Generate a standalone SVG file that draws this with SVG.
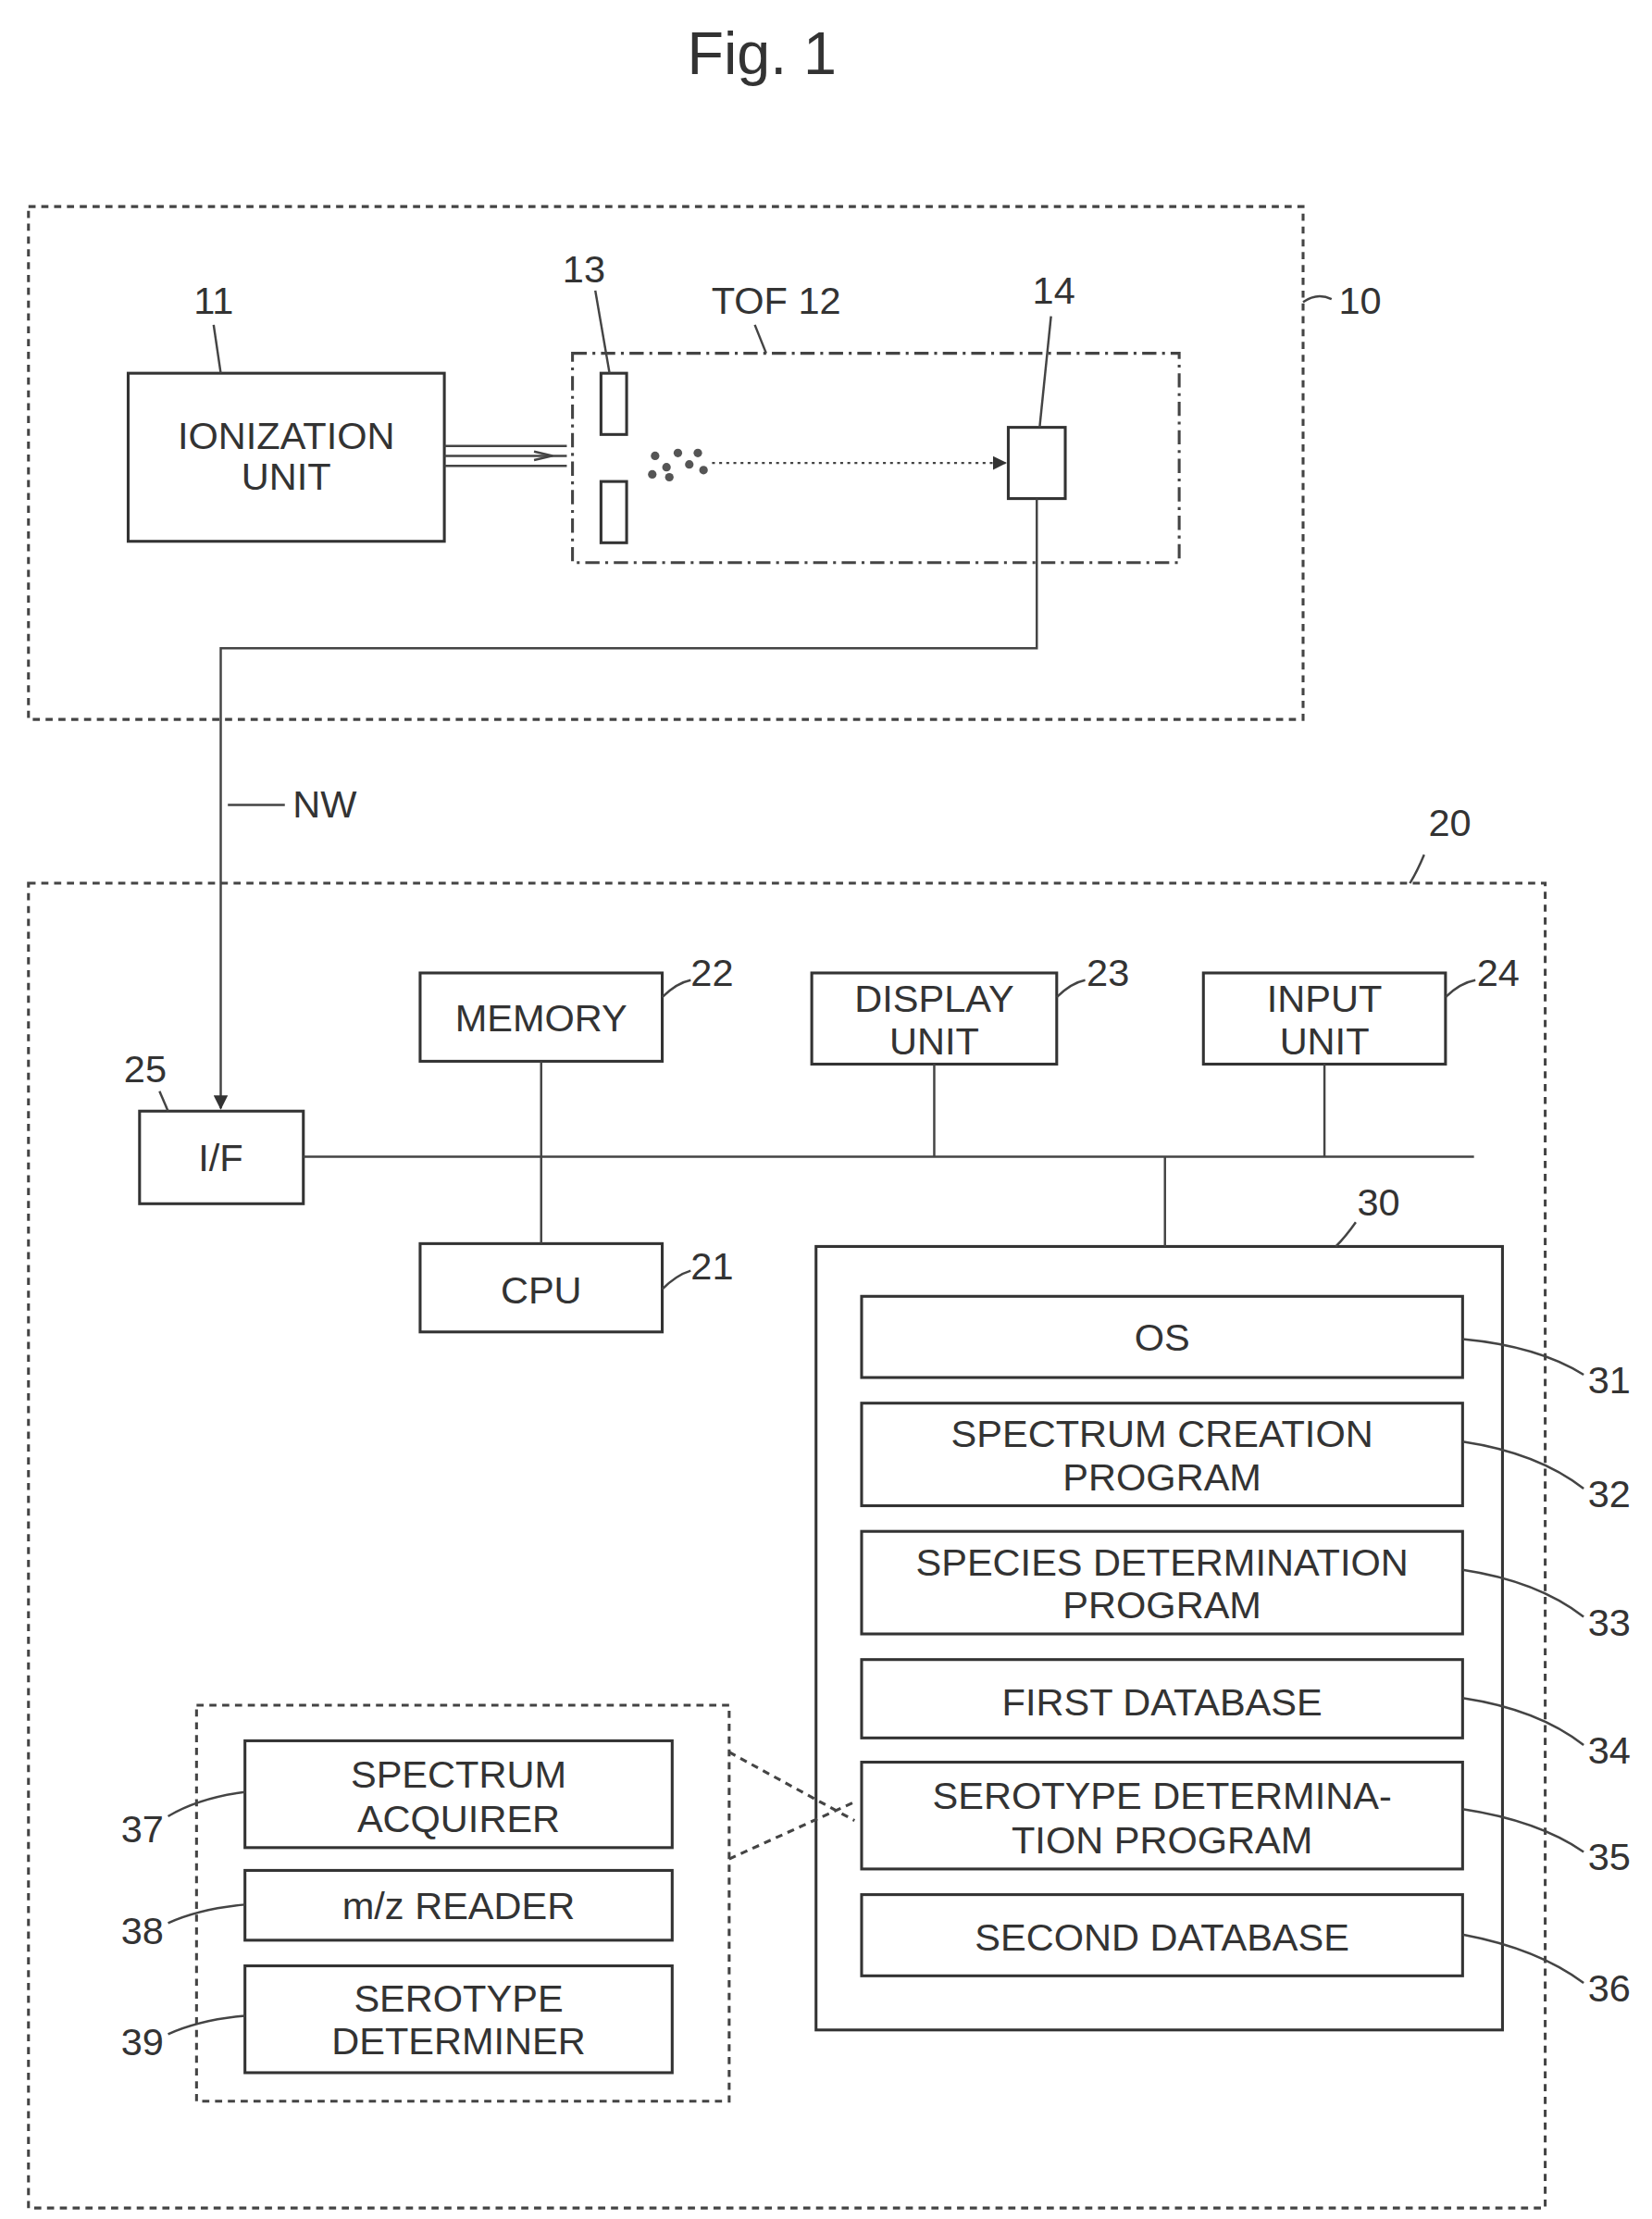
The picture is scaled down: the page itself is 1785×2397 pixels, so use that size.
<svg xmlns="http://www.w3.org/2000/svg" width="1785" height="2397" viewBox="0 0 1785 2397">
<defs>
<style>
text{font-family:"Liberation Sans",Arial,sans-serif;font-size:27px;fill:#333;text-anchor:middle}
.b{fill:#fff;stroke:#333;stroke-width:2}
.d{fill:none;stroke:#444;stroke-width:2;stroke-dasharray:5 4}
.l{fill:none;stroke:#444;stroke-width:1.6}
</style>
<marker id="a" markerWidth="10" markerHeight="10" refX="9" refY="5" orient="auto" markerUnits="userSpaceOnUse"><path d="M0,0 L10,5 L0,10 Z" fill="#333"/></marker>
</defs>
<rect width="1785" height="2397" fill="#fff"/>
<g transform="scale(1.5388)">
<text x="535" y="52" style="font-size:42px">Fig. 1</text>
<g id="n10"><rect class="d" x="20" y="145" width="895" height="360"/><text x="955" y="220">10</text><path class="l" d="M915,212 Q925,205 935,210"/></g>
<g id="n11"><rect class="b" x="90" y="262" width="222" height="118"/><text x="201" y="315">IONIZATION</text><text x="201" y="344">UNIT</text><text x="150" y="220">11</text><path class="l" d="M150,228 L155,262"/></g>
<g id="n12"><rect x="402" y="248" width="426" height="147" fill="none" stroke="#444" stroke-width="2" stroke-dasharray="10 4 2 4"/><text x="545" y="220">TOF 12</text><path class="l" d="M530,228 L538,248"/></g>
<g id="n13"><rect class="b" x="422" y="262" width="18" height="43"/><rect class="b" x="422" y="338" width="18" height="43"/><text x="410" y="198">13</text><path class="l" d="M418,204 L428,262"/></g>
<g id="n14"><rect class="b" x="708" y="300" width="40" height="50"/><text x="740" y="213">14</text><path class="l" d="M738,222 L730,300"/></g>
<g id="ions" fill="#555"><circle cx="460" cy="320" r="3"/><circle cx="468" cy="328" r="3"/><circle cx="476" cy="318" r="3"/><circle cx="484" cy="326" r="3"/><circle cx="470" cy="335" r="3"/><circle cx="490" cy="318" r="3"/><circle cx="494" cy="330" r="3"/><circle cx="458" cy="333" r="3"/></g>
<g id="n20"><rect class="d" x="20" y="620" width="1065" height="930"/><text x="1018" y="587">20</text><path class="l" d="M1000,600 Q995,612 990,620"/></g>
<g id="n22"><rect class="b" x="295" y="683" width="170" height="62"/><text x="380" y="724">MEMORY</text><text x="500" y="692">22</text><path class="l" d="M465,700 Q475,690 485,688"/></g>
<g id="n23"><rect class="b" x="570" y="683" width="172" height="64"/><text x="656" y="710">DISPLAY</text><text x="656" y="740">UNIT</text><text x="778" y="692">23</text><path class="l" d="M742,700 Q752,690 762,688"/></g>
<g id="n24"><rect class="b" x="845" y="683" width="170" height="64"/><text x="930" y="710">INPUT</text><text x="930" y="740">UNIT</text><text x="1052" y="692">24</text><path class="l" d="M1015,700 Q1025,690 1036,688"/></g>
<g id="n25"><rect class="b" x="98" y="780" width="115" height="65"/><text x="155" y="822">I/F</text><text x="102" y="760">25</text><path class="l" d="M112,766 L118,780"/></g>
<g id="n21"><rect class="b" x="295" y="873" width="170" height="62"/><text x="380" y="915">CPU</text><text x="500" y="898">21</text><path class="l" d="M465,905 Q475,895 485,892"/></g>
<g id="n30"><rect class="b" x="573" y="875" width="482" height="550"/><text x="968" y="853">30</text><path class="l" d="M952,858 Q945,868 938,875"/></g>
<g id="n31"><rect class="b" x="605" y="910" width="422" height="57"/><text x="816" y="948">OS</text><text x="1130" y="978">31</text><path class="l" d="M1027,940 Q1080,945 1112,965"/></g>
<g id="n32"><rect class="b" x="605" y="985" width="422" height="72"/><text x="816" y="1016">SPECTRUM CREATION</text><text x="816" y="1046">PROGRAM</text><text x="1130" y="1058">32</text><path class="l" d="M1027,1012 Q1080,1020 1112,1045"/></g>
<g id="n33"><rect class="b" x="605" y="1075" width="422" height="72"/><text x="816" y="1106">SPECIES DETERMINATION</text><text x="816" y="1136">PROGRAM</text><text x="1130" y="1148">33</text><path class="l" d="M1027,1102 Q1080,1110 1112,1135"/></g>
<g id="n34"><rect class="b" x="605" y="1165" width="422" height="55"/><text x="816" y="1204">FIRST DATABASE</text><text x="1130" y="1238">34</text><path class="l" d="M1027,1192 Q1080,1200 1112,1225"/></g>
<g id="n35"><rect class="b" x="605" y="1237" width="422" height="75"/><text x="816" y="1270">SEROTYPE DETERMINA-</text><text x="816" y="1301">TION PROGRAM</text><text x="1130" y="1313">35</text><path class="l" d="M1027,1270 Q1080,1278 1112,1300"/></g>
<g id="n36"><rect class="b" x="605" y="1330" width="422" height="57"/><text x="816" y="1369">SECOND DATABASE</text><text x="1130" y="1405">36</text><path class="l" d="M1027,1358 Q1080,1368 1112,1392"/></g>
<g id="grp"><rect class="d" x="138" y="1197" width="374" height="278"/></g>
<g id="n37"><rect class="b" x="172" y="1222" width="300" height="75"/><text x="322" y="1255">SPECTRUM</text><text x="322" y="1286">ACQUIRER</text><text x="100" y="1293">37</text><path class="l" d="M118,1275 Q140,1262 172,1258"/></g>
<g id="n38"><rect class="b" x="172" y="1313" width="300" height="49"/><text x="322" y="1347">m/z READER</text><text x="100" y="1365">38</text><path class="l" d="M118,1350 Q140,1340 172,1337"/></g>
<g id="n39"><rect class="b" x="172" y="1380" width="300" height="75"/><text x="322" y="1412">SEROTYPE</text><text x="322" y="1442">DETERMINER</text><text x="100" y="1443">39</text><path class="l" d="M118,1428 Q140,1418 172,1415"/></g>
<g id="connectors">
<path class="l" d="M312,313 L398,313 M312,320 L398,320 M312,327 L398,327"/>
<path class="l" d="M375,317 L388,320 L375,323" />
<path d="M500,325 L706,325" stroke="#444" stroke-width="1.5" stroke-dasharray="2 3" marker-end="url(#a)" fill="none"/>
<path class="l" d="M728,350 L728,455 L155,455 L155,778" marker-end="url(#a)"/>
<text x="228" y="574">NW</text><path class="l" d="M160,565 L200,565"/>
<path class="l" d="M213,812 L1035,812 M380,745 L380,873 M656,747 L656,812 M930,747 L930,812 M818,812 L818,875"/>
<path class="d" d="M512,1230 L600,1278 M512,1305 L600,1265"/>
</g>
</g>
</svg>
